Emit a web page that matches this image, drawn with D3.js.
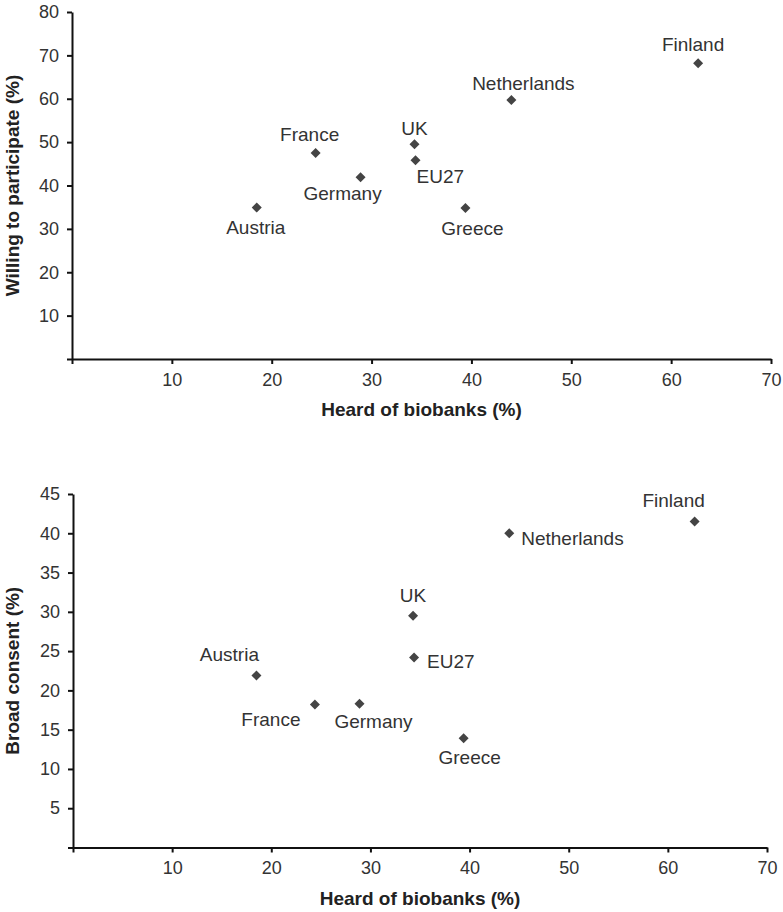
<!DOCTYPE html>
<html>
<head>
<meta charset="utf-8">
<script src="https://cdn.jsdelivr.net/npm/d3@7"></script>
<style>
  body { margin: 0; background: #fff; }
  svg { display: block; font-family: "Liberation Sans", Arial, sans-serif; }
  .tick text { fill: #333; font-size: 18px; }
  .domain, .tick line { stroke: #111; stroke-width: 2px; }
</style>
</head>
<body>
<svg width="783" height="912"></svg>
<script>
const countries = ['Austria', 'France', 'Germany', 'UK', 'EU27', 'Greece', 'Netherlands', 'Finland']
const heardOf = [18.5, 24.4, 28.9, 34.3, 34.4, 39.4, 44.0, 62.7]
const willing = [34.9, 47.5, 41.9, 49.5, 45.8, 34.8, 59.7, 68.2]
const broadConsent = [21.9, 18.2, 18.3, 29.5, 24.2, 13.9, 40.0, 41.5]

const xTicks = [0, 10, 20, 30, 40, 50, 60, 70]
const willingTicks = [0, 10, 20, 30, 40, 50, 60, 70, 80]
const consentTicks = [0, 5, 10, 15, 20, 25, 30, 35, 40, 45]

const svg = d3.select('svg')

// label placement per panel: [anchor, dx, dy]
const topLabels = {
  Austria: ['middle', -1, 26], France: ['middle', -6, -12], Germany: ['middle', -18, 23],
  UK: ['middle', 0, -9], EU27: ['start', 1, 23], Greece: ['middle', 7, 27],
  Netherlands: ['middle', 12, -10], Finland: ['middle', -5, -12]
}
const bottomLabels = {
  Austria: ['middle', -27, -14], France: ['middle', -44, 21], Germany: ['middle', 14, 24],
  UK: ['middle', 0, -14], EU27: ['start', 13, 11], Greece: ['middle', 6, 26],
  Netherlands: ['start', 12, 12], Finland: ['middle', -21, -14]
}

function drawPanel(opts) {
  const x = d3.scaleLinear().domain([0, 70]).range([opts.left, opts.right])
  const y = d3.scaleLinear().domain([0, opts.yMax]).range([opts.bottom, opts.top])
  const g = svg.append('g')

  const axisX = d3.axisBottom(x)
    .tickValues(xTicks)
    .tickSize(5)
    .tickSizeOuter(0)
    .tickPadding(9)
    .tickFormat(d => d === 0 ? '' : d)
  g.append('g')
    .attr('transform', `translate(0, ${opts.bottom})`)
    .call(axisX)

  const axisY = d3.axisLeft(y)
    .tickValues(opts.yTicks)
    .tickSize(5)
    .tickSizeOuter(0)
    .tickPadding(8)
    .tickFormat(d => d === 0 ? '' : d)
  g.append('g')
    .attr('transform', `translate(${opts.left}, 0)`)
    .call(axisY)

  g.append('text')
    .attr('x', (opts.left + opts.right) / 2)
    .attr('y', opts.bottom + 57)
    .attr('text-anchor', 'middle')
    .attr('font-size', 19)
    .attr('font-weight', 'bold')
    .attr('fill', '#222')
    .text('Heard of biobanks (%)')

  g.append('text')
    .attr('transform', `translate(12, ${(opts.top + opts.bottom) / 2}) rotate(-90)`)
    .attr('text-anchor', 'middle')
    .attr('dominant-baseline', 'central')
    .attr('font-size', 19)
    .attr('font-weight', 'bold')
    .attr('fill', '#222')
    .text(opts.yTitle)

  const pts = countries.map((c, i) => ({ country: c, x: heardOf[i], y: opts.values[i] }))

  g.selectAll('path.pt')
    .data(pts)
    .enter()
    .append('path')
    .attr('class', 'pt')
    .attr('d', d3.symbol().type(d3.symbolSquare).size(50))
    .attr('transform', d => `translate(${x(d.x)}, ${y(d.y)}) rotate(45)`)
    .attr('fill', '#444')

  g.selectAll('text.lbl')
    .data(pts)
    .enter()
    .append('text')
    .attr('class', 'lbl')
    .attr('x', d => x(d.x) + opts.labels[d.country][1])
    .attr('y', d => y(d.y) + opts.labels[d.country][2])
    .attr('text-anchor', d => opts.labels[d.country][0])
    .attr('font-size', 19)
    .attr('fill', '#333')
    .text(d => d.country)
}

drawPanel({
  left: 72, right: 771, top: 12, bottom: 359,
  yMax: 80, yTicks: willingTicks, values: willing,
  yTitle: 'Willing to participate (%)', labels: topLabels
})

drawPanel({
  left: 73, right: 767, top: 494, bottom: 847.5,
  yMax: 45, yTicks: consentTicks, values: broadConsent,
  yTitle: 'Broad consent (%)', labels: bottomLabels
})
</script>
</body>
</html>
